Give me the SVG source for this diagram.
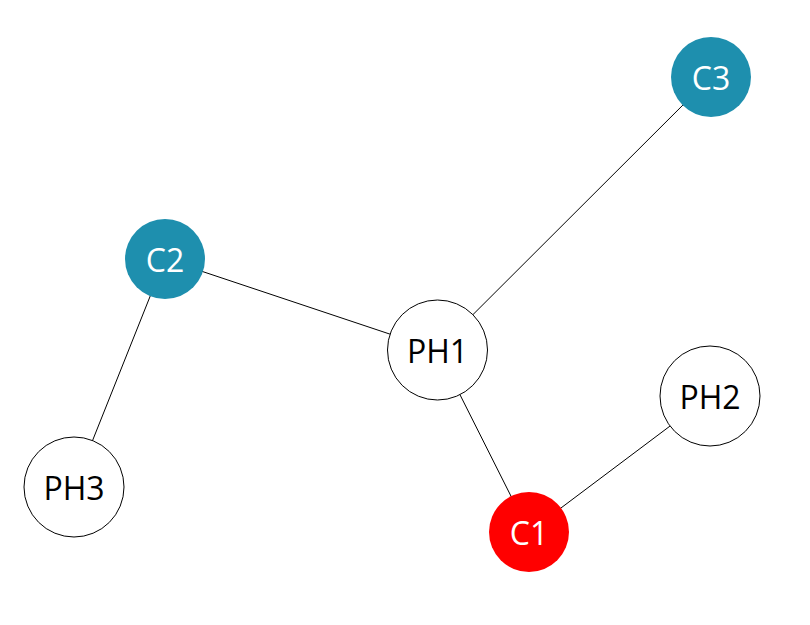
<svg xmlns="http://www.w3.org/2000/svg" width="810" height="625" viewBox="0 0 810 625">
<style>
.edge{stroke:#000;stroke-width:1;fill:none}
.ph{fill:#fff;stroke:#000;stroke-width:1}
.c{stroke:none}
.teal{fill:#1e8fae}
.red{fill:#ff0000}
text{font-family:"Open Sans","Liberation Sans",sans-serif;font-size:32px;text-anchor:middle;dominant-baseline:central}
.lw{fill:#fff}
.lb{fill:#000}
</style>
<rect width="810" height="625" fill="#fff"/>
<g id="edges">
<line class="edge" x1="165" y1="259" x2="437.5" y2="350"/>
<line class="edge" x1="711" y1="77" x2="437.5" y2="350"/>
<line class="edge" x1="437.5" y1="350" x2="529" y2="532"/>
<line class="edge" x1="529" y1="532" x2="710" y2="396"/>
<line class="edge" x1="165" y1="259" x2="74" y2="487"/>
</g>
<g id="C3"><circle class="c teal" cx="711" cy="77" r="40"/><text class="lw" x="711" y="77">C3</text></g>
<g id="C2"><circle class="c teal" cx="165" cy="259" r="40"/><text class="lw" x="165" y="259">C2</text></g>
<g id="PH1"><circle class="ph" cx="437.5" cy="350" r="50"/><text class="lb" x="437.5" y="350">PH1</text></g>
<g id="PH2"><circle class="ph" cx="710" cy="396" r="50"/><text class="lb" x="710" y="396">PH2</text></g>
<g id="PH3"><circle class="ph" cx="74" cy="487" r="50"/><text class="lb" x="74" y="487">PH3</text></g>
<g id="C1"><circle class="c red" cx="529" cy="532" r="40"/><text class="lw" x="529" y="532">C1</text></g>
</svg>
